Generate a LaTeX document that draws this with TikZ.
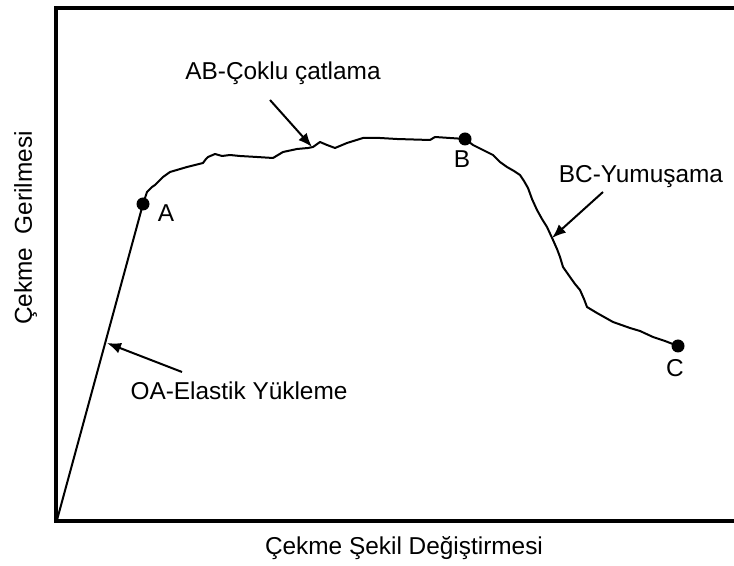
\documentclass[tikz,border=0pt]{standalone}
\usepackage{fontspec}
\setmainfont{Liberation Sans}
\usetikzlibrary{arrows.meta}

\begin{document}
\begin{tikzpicture}[%
        x = 0.5pt,
        y = -0.5pt,
        font = \fontsize{12.2}{14}\selectfont,
        bullet/.style = {circle, fill, inner sep = 0pt, minimum size = 6.5pt},
        tag/.style = {anchor = base, inner sep = 0pt},
        pointer/.style = {line width = 1pt, -{Latex[length = 7pt, width = 5.5pt]}},
    ]

        % Canvas has the size of the original figure.
        \useasboundingbox (0, 0) rectangle (734, 566);

        % Frame: only top, left and bottom edges are shown.
        \draw[line width = 1.6pt] (734, 8) -- (56, 8) -- (56, 521) -- (734, 521);

        % The stress-strain curve, O -> A -> B -> C.
        \draw[line width = 1pt, line join = round]
            (57, 520) -- (143, 204)
            -- (145, 198) -- (147, 192) -- (152, 187) -- (155, 185) -- (160, 180)
            -- (163, 177) -- (170, 172) -- (187, 167) -- (203, 163) -- (206, 159)
            -- (208, 157) -- (215, 154) -- (222, 156) -- (230, 155) -- (240, 156)
            -- (257, 157) -- (273, 158) -- (283, 152) -- (297, 149) -- (308, 148)
            -- (313, 147) -- (320, 142) -- (327, 145) -- (335, 148) -- (347, 143)
            -- (363, 138) -- (380, 138) -- (397, 139) -- (430, 140) -- (435, 137)
            -- (450, 138) -- (465, 139)
            -- (473, 145) -- (483, 150) -- (493, 155) -- (500, 162) -- (507, 167)
            -- (514, 171) -- (520, 175) -- (524, 181) -- (528, 188) -- (532, 199)
            -- (537, 210) -- (542, 219) -- (547, 227) -- (553, 240) -- (557, 249)
            -- (560, 257) -- (563, 267) -- (570, 277) -- (575, 284) -- (580, 290)
            -- (584, 299) -- (587, 307) -- (597, 313) -- (613, 322) -- (630, 328)
            -- (640, 331) -- (653, 337) -- (665, 341) -- (678, 346);

        % Marked points and their letters.
        \node[bullet] (A) at (143, 204) {};
        \node[bullet] (B) at (465, 139) {};
        \node[bullet] (C) at (678, 346) {};
        \node[tag] (Atext) at (166, 222) {A};
        \node[tag] (Btext) at (462, 168) {B};
        \node[tag] (Ctext) at (675, 377) {C};

        % Stage names with arrows onto the curve.
        \node[tag] (abtext) at (283, 80) {AB-Çoklu çatlama};
        \node[tag] (bctext) at (641, 183) {BC-Yumuşama};
        \node[tag] (oatext) at (239, 400) {OA-Elastik Yükleme};
        \coordinate (abfrom) at (270, 100);
        \coordinate (abtip) at (312, 147);
        \coordinate (bcfrom) at (603, 192);
        \coordinate (bctip) at (552, 238);
        \coordinate (oafrom) at (182, 372);
        \coordinate (oatip) at (107, 343);
        \draw[pointer] (abfrom) -- (abtip);
        \draw[pointer] (bcfrom) -- (bctip);
        \draw[pointer] (oafrom) -- (oatip);

        % Axis titles.
        \node[tag] (xtitle) at (404, 555) {Çekme Şekil Değiştirmesi};
        \node[tag, rotate = 90] (ytitle) at (32, 228) {Çekme~~Gerilmesi};
    \end{tikzpicture}
\end{document}
